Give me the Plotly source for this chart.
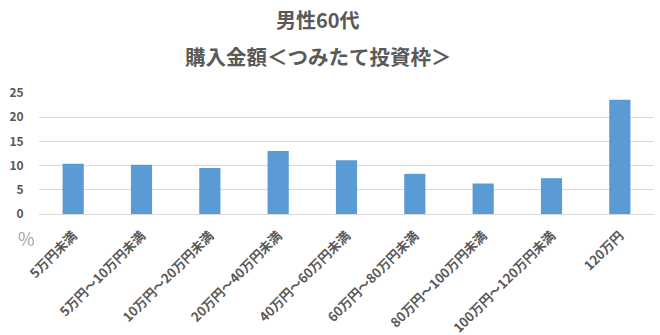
import plotly.graph_objects as go

categories = ["5万円未満", "5万円～10万円未満", "10万円～20万円未満", "20万円～40万円未満",
              "40万円～60万円未満", "60万円～80万円未満", "80万円～100万円未満",
              "100万円～120万円未満", "120万円"]
values = [10.4, 10.2, 9.5, 13.0, 11.1, 8.3, 6.3, 7.4, 23.6]
y_ticks = [0, 5, 10, 15, 20, 25]
title1 = "男性60代"
title2 = "購入金額＜つみたて投資枠＞"

FONT = "Noto Sans CJK JP"
GRAY = "#595959"
W, H = 660, 335
ML, MR, MT, MB = 39, 6, 93, 121
PW, PH = W - ML - MR, H - MT - MB


def px2paper(x, y):
    return (x - ML) / PW, (H - MB - y) / PH


def ann(text, x, y, size, color, bold=True):
    px, py = px2paper(x, y)
    return dict(text=text, x=px, y=py, xref="paper", yref="paper", showarrow=False,
                xanchor="center", yanchor="middle",
                font=dict(size=size, color=color, family=FONT,
                          weight="bold" if bold else "normal"))


fig = go.Figure(go.Bar(x=categories, y=values, marker_color="#5b9bd5", marker_line_width=0))

fig.update_layout(
    width=W, height=H,
    margin=dict(l=ML, r=MR, t=MT, b=MB, autoexpand=False),
    paper_bgcolor="white", plot_bgcolor="white",
    bargap=0.69,
    showlegend=False,
    font=dict(family=FONT, color=GRAY),
    annotations=[
        ann(title1, 318, 19, 20, GRAY),
        ann(title2, 318, 56, 20.5, GRAY),
        ann("%", 26, 238, 18, "#a6a6a6", bold=False),
    ],
)

fig.update_xaxes(
    tickangle=-45, tickfont=dict(size=13, color=GRAY, family=FONT, weight="bold"),
    showline=True, linecolor="#d9d9d9", linewidth=1, showgrid=False,
    ticks="outside", ticklen=8, tickcolor="rgba(0,0,0,0)", range=[-0.5, 8.5],
    automargin=False,
)
fig.update_yaxes(
    range=[0, 25], tickvals=y_ticks, showgrid=True, gridcolor="#d9d9d9", gridwidth=1,
    zeroline=False, showline=False,
    ticks="outside", ticklen=12, tickcolor="rgba(0,0,0,0)",
    tickfont=dict(size=12, color=GRAY, family=FONT, weight="bold"),
    automargin=False,
)

fig.write_html("out.html")
